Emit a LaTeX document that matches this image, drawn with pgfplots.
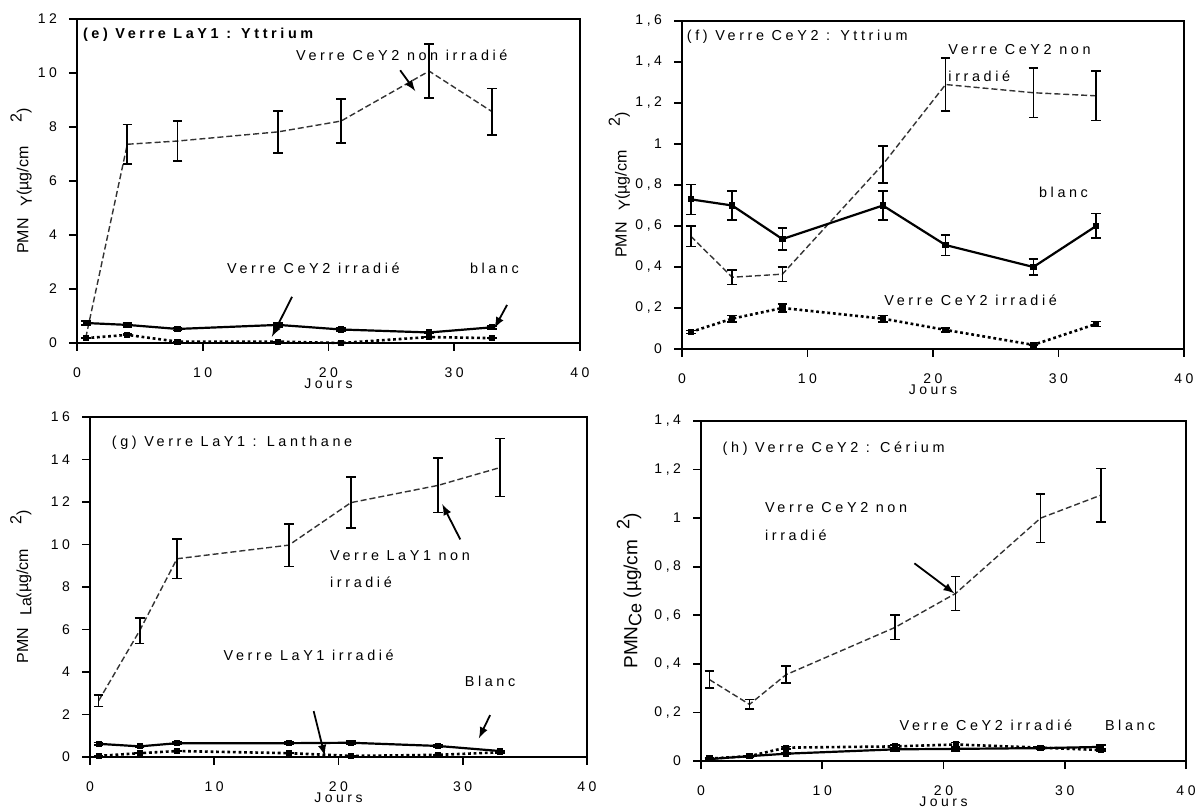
\documentclass[border=0pt]{standalone}
\usepackage{fontspec}
\setmainfont{Liberation Sans}[LetterSpace=25]
\newfontfamily\lab{Liberation Sans}
\usepackage{pgfplots}
\pgfplotsset{compat=1.18}
\tikzset{
  ann/.style={font=\fontsize{7.2}{8}\selectfont, inner sep=0pt},
  arr/.style={-latex, line width=0.9pt, black},
}
\pgfplotsset{
  panel/.style={
    scale only axis, anchor=south west, clip=false,
    xmin=0, xmax=40, xtick={0,10,20,30,40},
    tick pos=left, tick align=outside, major tick length=4pt,
    axis line style={line width=1pt},
    every tick/.style={black, line width=0.9pt},
    tick label style={font=\fontsize{7}{8}\selectfont},
    /pgf/number format/assume math mode=true,
    /pgf/number format/use comma,
    xticklabel style={yshift=-5pt},
    yticklabel style={xshift=-2.5pt},
    xlabel={Jours},
    xlabel style={font=\fontsize{7}{8}\selectfont, at={(axis description cs:0.5,0)}, anchor=center, yshift=-20.5pt},
    ylabel style={font=\lab\fontsize{8}{9}\selectfont, anchor=center},
  },
  ebar/.style={/pgfplots/error bars/y dir=both, /pgfplots/error bars/y explicit,
    /pgfplots/error bars/error bar style={black, line width=0.8pt, solid},
    /pgfplots/error bars/error mark options={black, rotate=90, mark size=2.4pt, line width=0.8pt, solid}},
  nonirr/.style={black!80, line width=0.7pt, dash pattern=on 3pt off 1.5pt, mark=none, ebar},
  blanc/.style={black, line width=1.1pt, solid, mark=square*, mark size=1pt, mark options={solid}, ebar},
  irr/.style={black, line width=1.3pt, dash pattern=on 1.4pt off 1.4pt, mark=square*, mark size=0.9pt, mark options={solid}, ebar},
}
\begin{document}
\begin{tikzpicture}
\path[use as bounding box] (0,0) rectangle (601.5pt,403.5pt);
% ---------------- (e)
\begin{axis}[panel, at={(38.5pt,232pt)}, width=251.5pt, height=162pt,
  ymin=0, ymax=12, ytick={0,2,...,12},
  ylabel={PMN\hspace{6pt}\raisebox{-0.4ex}{\footnotesize Y}(µg/cm\hspace{12pt}\raisebox{0.8ex}{\footnotesize 2})},
  ylabel style={at={(axis description cs:-0.111,0.5)}}]
\addplot[nonirr] table[x=x, y=y, y error=e] {
x y e
0.7 0.2 0.0
4 7.36 0.73
8 7.48 0.74
16 7.82 0.78
21 8.22 0.82
28 10.07 1.0
33 8.57 0.86
};
\addplot[blanc] table[x=x, y=y, y error=e] {
x y e
0.7 0.74 0.08
4 0.67 0.07
8 0.52 0.06
16 0.67 0.07
21 0.50 0.05
28 0.39 0.04
33 0.58 0.06
};
\addplot[irr] table[x=x, y=y, y error=e] {
x y e
0.7 0.18 0.02
4 0.30 0.03
8 0.05 0.01
16 0.05 0.01
21 0.0 0.0
28 0.22 0.02
33 0.18 0.02
};
\node[ann, anchor=west] at (axis cs:0.45,11.4) {\bfseries (e) Verre LaY1 : Yttrium};
\node[ann, anchor=west] at (axis cs:17.4,10.67) {Verre CeY2 non irradié};
\draw[arr] (axis cs:25.7,10.1) -- (axis cs:26.9,9.33);
\node[ann] at (axis cs:18.8,2.78) {Verre CeY2 irradié};
\draw[arr] (axis cs:17.1,1.71) -- (axis cs:15.5,0.23);
\node[ann] at (axis cs:33.2,2.78) {blanc};
\draw[arr] (axis cs:34.2,1.41) -- (axis cs:33.2,0.55);
\end{axis}
% ---------------- (f)
\begin{axis}[panel, at={(341pt,229pt)}, width=251pt, height=164pt,
  ymin=0, ymax=1.6, ytick={0,0.2,...,1.6},
  ylabel={PMN\hspace{6pt}\raisebox{-0.4ex}{\footnotesize Y}(µg/cm\hspace{12pt}\raisebox{0.8ex}{\footnotesize 2})},
  ylabel style={at={(axis description cs:-0.125,0.5)}}]
\addplot[nonirr] table[x=x, y=y, y error=e] {
x y e
0.7 0.55 0.05
4 0.35 0.035
8 0.365 0.035
16 0.90 0.09
21 1.29 0.13
28 1.25 0.12
33 1.235 0.12
};
\addplot[blanc] table[x=x, y=y, y error=e] {
x y e
0.7 0.73 0.073
4 0.70 0.07
8 0.536 0.054
16 0.70 0.07
21 0.507 0.05
28 0.40 0.04
33 0.60 0.06
};
\addplot[irr] table[x=x, y=y, y error=e] {
x y e
0.7 0.083 0.008
4 0.148 0.015
8 0.20 0.02
16 0.148 0.015
21 0.093 0.009
28 0.02 0.002
33 0.122 0.012
};
\node[ann, anchor=west] at (axis cs:0.36,1.523) {(f) Verre CeY2 : Yttrium};
\node[ann, anchor=west] at (axis cs:21.2,1.459) {Verre CeY2 non};
\node[ann, anchor=west] at (axis cs:21.2,1.332) {irradié};
\node[ann] at (axis cs:30.4,0.765) {blanc};
\node[ann] at (axis cs:23.0,0.239) {Verre CeY2 irradié};
\end{axis}
% ---------------- (g)
\begin{axis}[panel, at={(45pt,25pt)}, width=248.5pt, height=170pt,
  ymin=0, ymax=16, ytick={0,2,...,16},
  ylabel={PMN\hspace{6pt}\raisebox{-0.4ex}{\footnotesize La}(µg/cm\hspace{12pt}\raisebox{0.8ex}{\footnotesize 2})},
  ylabel style={at={(axis description cs:-0.139,0.5)}}]
\addplot[nonirr] table[x=x, y=y, y error=e] {
x y e
0.7 2.65 0.27
4 5.95 0.6
7 9.33 0.93
16 9.97 1.0
21 11.97 1.2
28 12.78 1.28
33 13.62 1.36
};
\addplot[blanc] table[x=x, y=y, y error=e] {
x y e
0.7 0.62 0.06
4 0.50 0.05
7 0.65 0.06
16 0.65 0.06
21 0.67 0.07
28 0.52 0.05
33 0.28 0.03
};
\addplot[irr] table[x=x, y=y, y error=e] {
x y e
0.7 0.05 0.01
4 0.18 0.02
7 0.28 0.03
16 0.18 0.02
21 0.05 0.01
28 0.10 0.01
33 0.22 0.02
};
\node[ann, anchor=west] at (axis cs:1.73,14.79) {(g) Verre LaY1 : Lanthane};
\node[ann, anchor=west] at (axis cs:19.3,9.5) {Verre LaY1 non};
\node[ann, anchor=west] at (axis cs:19.3,8.2) {irradié};
\draw[arr] (axis cs:29.8,10.24) -- (axis cs:28.35,11.9);
\node[ann] at (axis cs:17.6,4.8) {Verre LaY1 irradié};
\draw[arr] (axis cs:18.0,2.16) -- (axis cs:18.9,0.05);
\node[ann] at (axis cs:32.2,3.58) {Blanc};
\draw[arr] (axis cs:32.2,1.97) -- (axis cs:31.3,0.88);
\end{axis}
% ---------------- (h)
\begin{axis}[panel, at={(350.5pt,23pt)}, width=242.5pt, height=170pt,
  ymin=0, ymax=1.4, ytick={0,0.2,...,1.4},
  ylabel={PMN\raisebox{-0.4ex}{\small Ce} (µg/cm\hspace{5pt}\raisebox{0.8ex}{\small 2})},
  ylabel style={font=\lab\fontsize{9.5}{10}\selectfont, at={(axis description cs:-0.148,0.5)}}]
\addplot[nonirr] table[x=x, y=y, y error=e] {
x y e
0.7 0.335 0.035
4 0.233 0.02
7 0.355 0.035
16 0.55 0.05
21 0.69 0.07
28 1.0 0.1
33 1.095 0.11
};
\addplot[blanc] table[x=x, y=y, y error=e] {
x y e
0.7 0.008 0.003
4 0.02 0.003
7 0.03 0.004
16 0.048 0.008
21 0.05 0.008
28 0.053 0.005
33 0.058 0.008
};
\addplot[irr] table[x=x, y=y, y error=e] {
x y e
0.7 0.01 0.003
4 0.02 0.003
7 0.055 0.005
16 0.06 0.006
21 0.068 0.008
28 0.055 0.005
33 0.045 0.005
};
\node[ann, anchor=west] at (axis cs:1.76,1.287) {(h) Verre CeY2 : Cérium};
\node[ann, anchor=west] at (axis cs:5.25,1.044) {Verre CeY2 non};
\node[ann, anchor=west] at (axis cs:5.25,0.93) {irradié};
\draw[arr] (axis cs:17.6,0.814) -- (axis cs:20.9,0.69);
\node[ann] at (axis cs:23.5,0.148) {Verre CeY2 irradié};
\node[ann] at (axis cs:35.4,0.148) {Blanc};
\end{axis}
\end{tikzpicture}
\end{document}
